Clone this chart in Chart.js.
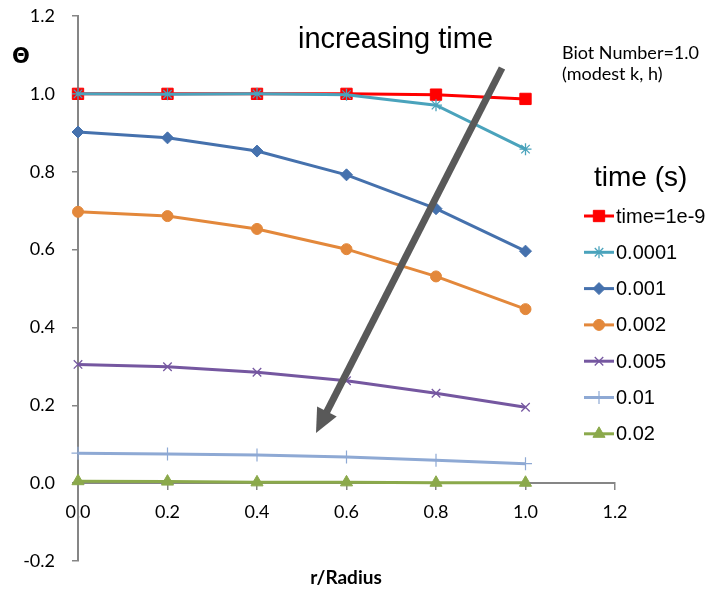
<!DOCTYPE html>
<html>
<head>
<meta charset="utf-8">
<script src="https://cdn.jsdelivr.net/npm/chart.js@4/dist/chart.umd.min.js"></script>
<style>
  html, body { margin: 0; padding: 0; background: #fff; }
  #wrap { width: 710px; height: 592px; position: relative; }
</style>
</head>
<body>
<div id="wrap"><canvas id="c" width="710" height="592"></canvas></div>
<script>
// ---- data ----
const radiusPositions = [0.0, 0.2, 0.4, 0.6, 0.8, 1.0];
const seriesLabels = ['time=1e-9', '0.0001', '0.001', '0.002', '0.005', '0.01', '0.02'];
const theta_1e9   = [1.000, 1.000, 1.000, 1.000, 0.998, 0.987];
const theta_0001  = [1.000, 0.999, 1.000, 0.998, 0.971, 0.858];
const theta_001   = [0.902, 0.887, 0.853, 0.792, 0.705, 0.596];
const theta_002   = [0.697, 0.686, 0.653, 0.601, 0.531, 0.447];
const theta_005   = [0.305, 0.299, 0.285, 0.263, 0.231, 0.195];
const theta_01    = [0.077, 0.075, 0.072, 0.067, 0.059, 0.050];
const theta_02    = [0.005, 0.004, 0.002, 0.002, 0.001, 0.001];
const xTicks = [0.0, 0.2, 0.4, 0.6, 0.8, 1.0, 1.2];
const yTicks = [-0.2, 0.0, 0.2, 0.4, 0.6, 0.8, 1.0, 1.2];

const seriesValues = [theta_1e9, theta_0001, theta_001, theta_002, theta_005, theta_01, theta_02];
const seriesColors = ['#FF0000', '#4AA3BC', '#4571AD', '#E3883B', '#7557A0', '#8EA9D4', '#8BA94B'];
const seriesMarkers = ['rect', 'star', 'rectRot', 'circle', 'crossRot', 'cross', 'triangle'];
const markerRadius = [8, 6, 6, 5.5, 6, 6.5, 7];
const markerBorder = [1, 1.3, 1, 1, 1.3, 1.2, 1];

const datasets = seriesValues.map((vals, i) => ({
  label: seriesLabels[i],
  data: vals.map((v, j) => ({ x: radiusPositions[j], y: v })),
  borderColor: seriesColors[i],
  backgroundColor: seriesColors[i],
  pointBackgroundColor: seriesColors[i],
  pointBorderColor: seriesColors[i],
  pointStyle: seriesMarkers[i],
  pointRadius: markerRadius[i],
  pointBorderWidth: markerBorder[i],
  borderWidth: 3,
  tension: 0,
  fill: false,
  clip: false,
  order: seriesValues.length - i
}));

const AXIS_COLOR = '#868686';

const overlay = {
  id: 'overlay',
  afterDatasetsDraw(chart) {
    const ctx = chart.ctx;
    ctx.save();
    const x1 = 502, y1 = 68, x2 = 316, y2 = 433;
    const ang = Math.atan2(y2 - y1, x2 - x1);
    const headLen = 24, headW = 11;
    const bx = x2 - headLen * Math.cos(ang), by = y2 - headLen * Math.sin(ang);
    ctx.strokeStyle = '#595959';
    ctx.fillStyle = '#595959';
    ctx.lineWidth = 7;
    ctx.beginPath();
    ctx.moveTo(x1, y1);
    ctx.lineTo(bx + 4 * Math.cos(ang), by + 4 * Math.sin(ang));
    ctx.stroke();
    ctx.beginPath();
    ctx.moveTo(x2, y2);
    ctx.lineTo(bx + headW * Math.sin(ang), by - headW * Math.cos(ang));
    ctx.lineTo(bx - headW * Math.sin(ang), by + headW * Math.cos(ang));
    ctx.closePath();
    ctx.fill();
    ctx.restore();
  },
  afterDraw(chart) {
    const ctx = chart.ctx;
    ctx.save();
    ctx.fillStyle = '#000';
    ctx.textBaseline = 'alphabetic';
    ctx.textAlign = 'left';
    ctx.font = '29px "Liberation Sans", Arial, sans-serif';
    ctx.fillText('increasing time', 298, 48);
    ctx.font = '18px Lato, "Open Sans", sans-serif';
    ctx.fillText('Biot Number=1.0', 562, 59);
    ctx.fillText('(modest k, h)', 562, 80);
    ctx.font = 'bold 21px "DejaVu Sans", sans-serif';
    ctx.textAlign = 'center';
    ctx.textBaseline = 'middle';
    ctx.fillText('\u0398', 21, 58);
    ctx.font = 'bold 19px Lato, sans-serif';
    ctx.fillText('r/Radius', 346, 578);
    // legend
    ctx.textAlign = 'left';
    ctx.font = '28px "Liberation Sans", Arial, sans-serif';
    ctx.fillText('time (s)', 594, 178);
    ctx.font = '20px "Liberation Sans", Arial, sans-serif';
    const helpers = Chart.helpers;
    chart.data.datasets.forEach((ds, i) => {
      const y = 216 + i * 36.3;
      ctx.strokeStyle = ds.borderColor;
      ctx.lineWidth = 3;
      ctx.beginPath();
      ctx.moveTo(584, y);
      ctx.lineTo(614, y);
      ctx.stroke();
      if (helpers && helpers.drawPoint) {
        ctx.fillStyle = ds.pointBackgroundColor;
        ctx.strokeStyle = ds.pointBorderColor;
        ctx.lineWidth = ds.pointBorderWidth;
        helpers.drawPoint(ctx, {
          pointStyle: ds.pointStyle,
          radius: ds.pointRadius,
          rotation: 0,
          borderWidth: ds.pointBorderWidth
        }, 599, y);
      }
      ctx.fillStyle = '#000';
      ctx.textBaseline = 'middle';
      ctx.fillText(ds.label, 616, y + 1);
    });
    ctx.restore();
  }
};

new Chart(document.getElementById('c'), {
  type: 'line',
  data: { datasets },
  options: {
    responsive: false,
    animation: false,
    events: [],
    layout: { padding: { left: 0, right: 95, top: 16, bottom: 31 } },
    plugins: { legend: { display: false }, tooltip: { enabled: false } },
    scales: {
      x: {
        type: 'linear',
        min: 0, max: 1.2,
        position: { y: 0 },
        afterFit(s) { s.height = 0; s.paddingLeft = 0; s.paddingRight = 0; s.paddingTop = 0; s.paddingBottom = 0; },
        afterBuildTicks(s) { s.ticks = xTicks.map(v => ({ value: v })); },
        ticks: {
          callback: v => Number(v).toFixed(1),
          font: { family: 'Lato', size: 18 },
          color: '#000',
          padding: 12,
          maxRotation: 0,
          autoSkip: false
        },
        grid: { drawOnChartArea: false, drawTicks: true, tickLength: 6, color: AXIS_COLOR, lineWidth: 1.5 },
        border: { display: true, color: AXIS_COLOR, width: 2 }
      },
      y: {
        type: 'linear',
        min: -0.2, max: 1.2,
        position: 'left',
        afterFit(s) { s.width = 78; s.paddingTop = 0; s.paddingBottom = 0; s.paddingLeft = 0; s.paddingRight = 0; },
        afterBuildTicks(s) { s.ticks = yTicks.map(v => ({ value: v })); },
        ticks: {
          callback: v => Number(v).toFixed(1),
          font: { family: 'Lato', size: 18 },
          color: '#000',
          padding: 17,
          autoSkip: false
        },
        grid: { drawOnChartArea: false, drawTicks: true, tickLength: 6, color: AXIS_COLOR, lineWidth: 1.5 },
        border: { display: true, color: AXIS_COLOR, width: 2 }
      }
    }
  },
  plugins: [overlay]
});
</script>
</body>
</html>
